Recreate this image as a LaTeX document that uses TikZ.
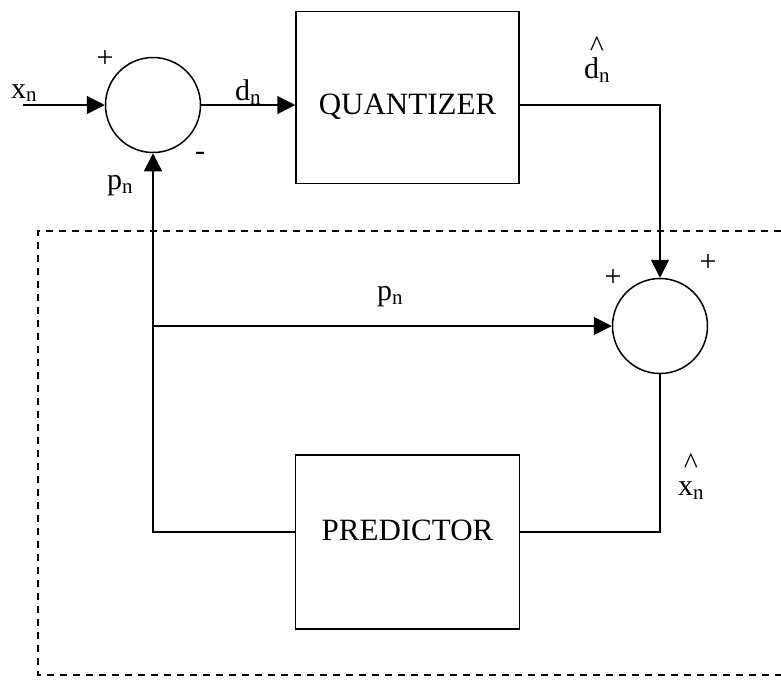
\documentclass[tikz,border=0pt]{standalone}
\usepackage{fontspec}
\setmainfont{Liberation Serif}
\usetikzlibrary{positioning,arrows.meta}

\begin{document}
\begin{tikzpicture}[x=1pt, y=-1pt, line width=1.5pt,
    >={Triangle[length=18pt,width=18pt]},
    sum/.style={draw, circle, minimum size=95pt, inner sep=0pt},
    block/.style={draw, rectangle, minimum width=223pt, minimum height=172pt,
        font=\fontsize{31}{36}\selectfont},
    lbl/.style={inner sep=0pt, font=\fontsize{30}{36}\selectfont},
    hatlbl/.style={inner sep=0pt, align=center, font=\fontsize{30}{22}\selectfont}]
    \useasboundingbox (0,0) rectangle (781,681);

    \node[sum] (sum1) at (153,105) {};
    \node[block, right=94pt of sum1, yshift=7.5pt, text height=40pt, text depth=6pt] (quant) {QUANTIZER};
    \node[block, below=270pt of quant, minimum width=224pt, minimum height=174pt] (pred) {\raisebox{24pt}{PREDICTOR}};
    \node[sum] (sum2) at (660,326) {};
    \coordinate (xin) at (23,105);
    \coordinate (fbturn) at (153,532);

    % Signals and signs
    \node[lbl] (xn) at (24,93) {x\textsubscript{n}};
    \node[lbl] (dn) at (248,92) {d\textsubscript{n}};
    \node[hatlbl] (dhat) at (597,60) {\textasciicircum\\d\textsubscript{n}};
    \node[lbl] (plusA) at (105,59) {+};
    \node[lbl] (minusA) at (200,156) {-};
    \node[lbl] (pfb) at (120,186) {p\textsubscript{n}};
    \node[lbl] (pmid) at (390,297) {p\textsubscript{n}};
    \node[lbl] (plusB) at (613,278) {+};
    \node[lbl] (plusC) at (708,263) {+};
    \node[hatlbl] (xhat) at (691,477) {\textasciicircum\\x\textsubscript{n}};

    % Connections
    \draw[->] (xin) -- (sum1.west);
    \draw[->] (sum1.east) -- (quant.west |- sum1.east);
    \draw[->] (quant.east |- sum1.east) -| (sum2.north);
    \draw (sum2.south) |- (pred.east |- fbturn);
    \draw[->] (pred.west |- fbturn) -| (sum1.south);
    \draw[->] (sum1 |- sum2) -- (sum2.west);

    % Predictor loop frame
    \draw[line width=1.2pt, dash pattern=on 7pt off 6pt] (781,231) -| (38,675) -- (781,675);
\end{tikzpicture}
\end{document}
